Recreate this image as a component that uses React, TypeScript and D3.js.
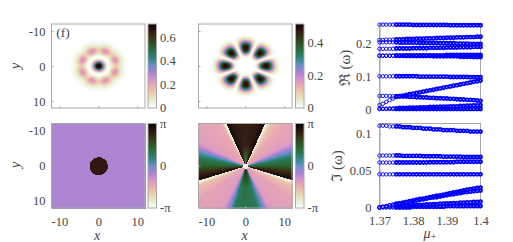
import React, { useEffect, useRef } from 'react';
import * as d3 from 'd3';

// colormap
const cmapStops = [0, 0.05, 0.12, 0.2, 0.28, 0.36, 0.42, 0.5, 0.56, 0.62, 0.7, 0.78, 0.86, 0.93, 1];
const cmapColors = ['#ffffff', '#eef5e4', '#e9e4c2', '#ecc6aa', '#e8a5b5', '#cf8fd0', '#a882d2', '#6f8fc8', '#3f8c9c', '#2c7f6c', '#2a6a38', '#2e4f20', '#3a2b16', '#2a1210', '#0a0508'];

// panel (f) amplitude: radial profiles and angular lobes
const ampRadiusA = [0, 0.6, 0.9, 1.2, 1.6, 2.1, 2.7, 3.1, 3.6, 4.4, 5.1, 5.7, 6.3, 7, 7.6];
const ampValueA = [0.72, 0.68, 0.5, 0.36, 0.2, 0.03, 0, 0.06, 0.15, 0.26, 0.2, 0.1, 0.05, 0.015, 0];
const lobeOffsetA = [0, 8, 14, 22.5];
const lobeFactorA = [1, 0.9, 0.68, 0.52];

const ampRadiusB = [0, 2.2, 2.8, 3.4, 3.9, 4.5, 5.2, 5.9, 6.5, 7.1, 7.7, 8.5, 9.1];
const ampValueB = [0, 0, 0.05, 0.2, 0.36, 0.47, 0.51, 0.47, 0.34, 0.2, 0.08, 0.015, 0];
const lobeOffsetB = [0, 4, 8, 12, 16, 20, 22.5];
const lobeFactorB = [1, 0.97, 0.85, 0.62, 0.34, 0.09, 0];

// phase panels
const flatPhase = -0.55;
const corePhase = 2.6;
const coreRadius = [2.35, 2.55];
const starRadius = 0.7;

const phaseAngles = [0, 15, 24.4, 24.5, 30, 40, 62, 67, 72, 76, 81, 88, 97, 106.7, 106.8, 112, 125, 150, 154, 157, 165, 180, 195, 200, 204, 208, 235, 248, 253, 253.1, 263, 272, 279, 284, 288, 292, 297, 330, 335.5, 335.6, 345, 360];
const phaseOuter = [2.45, 2.6, 3, -3.14, -1.9, -1.45, -1.2, -0.6, 0, 0.5, 1, 1.3, 2.2, 3, -3.14, -1.8, -1.35, -1.2, -0.6, 0, 0.9, 1.1, 0.9, 0, -0.6, -1.2, -1.35, -1.8, -3.14, 3, 2.2, 1.3, 1, 0.5, 0, -0.6, -1.2, -1.45, -3.14, 3, 2.6, 2.45];
const phaseInner = [0.7, 2.3, 3, -3.14, -1.9, -1.45, -1.2, -0.6, 0, 0.5, 1, 1.3, 2.2, 3, -3.14, -1.8, -1.35, -1.2, -0.6, 0, 1.6, 2.5, 1.6, 0, -0.6, -1.2, -1.35, -1.8, -3.14, 3, 2.2, 1.3, 1, 0.5, 0, -0.6, -1.2, -1.45, -3.14, 3, 2.3, 0.7];

// spectra
const mu = [1.37, 1.371, 1.372, 1.373, 1.374, 1.375, 1.376, 1.377, 1.378, 1.379, 1.38, 1.381, 1.382, 1.383, 1.384, 1.385, 1.386, 1.387, 1.388, 1.389, 1.39, 1.391, 1.392, 1.393, 1.394, 1.395, 1.396, 1.397, 1.398, 1.399, 1.4];

const reSeries = [
  [.258, .258, .258, .258, .258, .258, .258, .258, .258, .258, .257, .257, .257, .257, .257, .257, .257, .257, .257, .257, .257, .256, .256, .256, .256, .256, .256, .256, .256, .256, .256],
  [.211, .211, .212, .212, .212, .213, .213, .213, .214, .214, .214, .215, .215, .215, .216, .216, .216, .217, .217, .217, .218, .218, .218, .219, .219, .219, .220, .220, .220, .221, .221],
  [.204, .204, .204, .204, .204, .204, .203, .203, .203, .203, .203, .203, .202, .202, .202, .202, .202, .202, .201, .201, .201, .201, .201, .200, .200, .200, .200, .199, .199, .199, .199],
  [.184, .184, .184, .184, .184, .185, .185, .185, .185, .185, .186, .186, .186, .186, .186, .187, .187, .187, .187, .187, .188, .188, .188, .188, .189, .189, .189, .189, .190, .190, .190],
  [.163, .163, .163, .163, .163, .163, .163, .163, .164, .164, .164, .164, .164, .164, .164, .164, .164, .164, .164, .164, .165, .165, .165, .165, .165, .165, .165, .165, .165, .165, .165],
  [.163, .163, .163, .163, .163, .163, .163, .163, .162, .162, .162, .162, .162, .162, .162, .162, .161, .161, .161, .161, .161, .161, .161, .161, .160, .160, .160, .160, .159, .159, .159],
  [.100, .100, .100, .100, .100, .100, .100, .100, .100, .100, .100, .100, .099, .099, .099, .099, .099, .099, .099, .099, .099, .098, .098, .098, .098, .098, .098, .097, .097, .097, .097],
  [.012, .016, .022, .027, .032, .037, .039, .041, .043, .045, .047, .049, .051, .053, .055, .057, .059, .061, .063, .065, .067, .069, .071, .073, .075, .077, .079, .081, .083, .085, .087],
  [.040, .040, .040, .040, .039, .039, .039, .038, .038, .037, .037, .036, .036, .035, .035, .034, .034, .033, .033, .032, .032, .031, .031, .030, .029, .029, .028, .028, .027, .026, .025],
  [.001, .001, .001, .002, .002, .002, .003, .003, .003, .004, .004, .004, .005, .005, .005, .006, .006, .006, .007, .007, .007, .008, .008, .008, .009, .009, .010, .010, .011, .011, .012],
  [0, 0, 0, 0, 0, 0, 0, 0, 0, 0, 0, 0, 0, 0, 0, 0, 0, 0, 0, 0, 0, 0, 0, 0, 0, 0, 0, 0, 0, 0, 0],
];

const imSeries = [
  [.111, .111, .111, .110, .110, .110, .110, .109, .109, .109, .108, .108, .108, .107, .107, .107, .106, .106, .106, .105, .105, .105, .105, .104, .104, .104, .104, .103, .103, .103, .103],
  [.0705, .0705, .0705, .0705, .0705, .0705, .0705, .07, .07, .07, .07, .07, .07, .0695, .0695, .0695, .0695, .0695, .0695, .069, .069, .069, .069, .069, .069, .0685, .0685, .0685, .0685, .0685, .0685],
  [.061, .061, .061, .061, .061, .061, .061, .061, .061, .061, .061, .061, .061, .061, .061, .0615, .0615, .0615, .0615, .0615, .0615, .0615, .0615, .062, .062, .062, .062, .062, .062, .062, .062],
  [.045, .045, .045, .045, .045, .045, .045, .045, .045, .045, .045, .045, .045, .045, .045, .045, .045, .045, .045, .045, .045, .045, .045, .045, .045, .045, .045, .045, .045, .045, .045],
  [0, .001, .002, .003, .004, .005, .0055, .0065, .0075, .0085, .0095, .0105, .0115, .012, .013, .014, .015, .016, .0165, .0175, .0185, .0195, .0205, .021, .022, .023, .024, .025, .0255, .0265, .027],
  [0, .001, .002, .003, .0035, .0045, .0055, .006, .007, .008, .0085, .0095, .0105, .011, .012, .013, .0135, .014, .015, .016, .0165, .0175, .018, .019, .0195, .0205, .021, .0215, .022, .0225, .023],
  [0, .0005, .001, .001, .0015, .0015, .002, .002, .0025, .0025, .003, .003, .0035, .0035, .004, .004, .0045, .0045, .005, .005, .0055, .0055, .006, .006, .0065, .0065, .007, .007, .0075, .0075, .008],
  [0, 0, 0, 0, 0, 0, 0, 0, 0, 0, .001, .001, .001, .001, .001, .001, .001, .001, .001, .001, .002, .002, .002, .002, .002, .002, .002, .002, .002, .002, .002],
];

const spaceTicks = [-10, 0, 10];
const reTicks = [0, 0.1, 0.2];
const imTicks = [0, 0.05, 0.1];
const muTicks = [1.37, 1.38, 1.39, 1.4];
const ampTicksA = [0, 0.2, 0.4, 0.6];
const ampTicksB = [0, 0.2, 0.4];

const FONT = '"Liberation Serif", serif';
const INK = '#444';
const FRAME = '#a8a8a8';

const cmap = d3.scaleLinear<string>().domain(cmapStops).range(cmapColors).clamp(true);
const PI = Math.PI;

const ampA = d3.scaleLinear().domain(ampRadiusA).range(ampValueA).clamp(true);
const ampB = d3.scaleLinear().domain(ampRadiusB).range(ampValueB).clamp(true);
const factorA = d3.scaleLinear().domain(lobeOffsetA).range(lobeFactorA).clamp(true);
const factorB = d3.scaleLinear().domain(lobeOffsetB).range(lobeFactorB).clamp(true);
const outerPhase = d3.scaleLinear().domain(phaseAngles).range(phaseOuter);
const innerPhase = d3.scaleLinear().domain(phaseAngles).range(phaseInner);
const phaseBlend = d3.scaleLinear().domain([1.5, 6]).range([0, 1]).clamp(true);

const bearing = (dx: number, dy: number) => ((Math.atan2(dx, -dy) * 180) / PI + 360) % 360;

export default function App() {
  const svgRef = useRef<SVGSVGElement>(null);

  useEffect(() => {
    const svg = d3.select(svgRef.current);
    svg.selectAll('*').remove();

    const heatmap = (
      left: number, top: number, field: (x: number, y: number, px: number, py: number) => number,
      yLabels: boolean, xLabels: boolean,
    ) => {
      const w = 93.5;
      const h = top < 100 ? 84 : 84.5;
      const x = d3.scaleLinear().domain([-12, 12]).range([left, left + w]);
      const y = d3.scaleLinear().domain([-12, 12]).range([top, top + h]);
      const g = svg.append('g');
      const cols = d3.range(left, left + w, 1);
      const rows = d3.range(top, top + h, 1);
      const cells = rows.flatMap(py => cols.map(px => ({ px, py })));
      g.selectAll('rect')
        .data(cells)
        .enter()
        .append('rect')
        .attr('x', d => d.px)
        .attr('y', d => d.py)
        .attr('width', 1)
        .attr('height', 1)
        .attr('shape-rendering', 'crispEdges')
        .attr('fill', d => cmap(field(x.invert(d.px + 0.5), y.invert(d.py + 0.5), d.px + 0.5 - x(0), d.py + 0.5 - y(0))));

      svg.append('rect')
        .attr('x', left).attr('y', top).attr('width', w).attr('height', h)
        .attr('fill', 'none').attr('stroke', FRAME);

      const axis = (sel: any) => {
        sel.selectAll('.domain').remove();
        sel.selectAll('line').attr('stroke', FRAME);
        sel.selectAll('text').attr('font-family', FONT).attr('font-size', 12.5).attr('fill', INK);
      };
      svg.append('g').attr('transform', `translate(${left},0)`)
        .call(d3.axisLeft(y).tickValues(spaceTicks).tickSize(-2).tickPadding(6).tickFormat(yLabels ? (d => String(d)) : () => ''))
        .call(axis);
      svg.append('g').attr('transform', `translate(0,${top + h})`)
        .call(d3.axisBottom(x).tickValues(spaceTicks).tickSize(-2).tickPadding(9).tickFormat(xLabels ? (d => String(d)) : () => ''))
        .call(axis);
    };

    const colorbar = (left: number, top: number, h: number, labels: [number, string][], max: number) => {
      const scale = d3.scaleLinear().domain([0, max]).range([top + h, top]);
      const rows = d3.range(top, top + h, 1);
      svg.append('g').selectAll('rect')
        .data(rows)
        .enter()
        .append('rect')
        .attr('x', left).attr('y', d => d).attr('width', 8.5).attr('height', 1)
        .attr('shape-rendering', 'crispEdges')
        .attr('fill', d => cmap(scale.invert(d + 0.5) / max));
      svg.append('rect').attr('x', left).attr('y', top).attr('width', 8.5).attr('height', h)
        .attr('fill', 'none').attr('stroke', FRAME);
      svg.append('g').selectAll('text')
        .data(labels)
        .enter()
        .append('text')
        .attr('x', left + 12)
        .attr('y', d => scale(d[0]))
        .attr('dy', '0.33em')
        .attr('font-family', FONT).attr('font-size', 12.5).attr('fill', INK)
        .text(d => d[1]);
    };

    heatmap(51.5, 24, (x, y) => {
      const r = Math.hypot(x, y);
      const off = Math.abs((((bearing(x, y) - 22.5) % 45) + 45) % 45);
      const near = Math.min(off, 45 - off);
      return ampA(r) * (r > 2.4 ? factorA(near) : 1) / 0.72;
    }, true, false);
    colorbar(148, 24, 84, ampTicksA.map(v => [v, String(v)]), 0.715);

    heatmap(198.5, 24, (x, y) => {
      const r = Math.hypot(x, y);
      const off = bearing(x, y) % 45;
      const near = Math.min(off, 45 - off);
      return (ampB(r) * factorB(near)) / 0.517;
    }, false, false);
    colorbar(295.5, 24, 84, ampTicksB.map(v => [v, String(v)]), 0.517);

    const phaseColor = (p: number) => (p + PI) / (2 * PI);

    heatmap(51.5, 123.5, (x, y) => {
      const inside = (x / coreRadius[0]) ** 2 + (y / coreRadius[1]) ** 2 < 1;
      return phaseColor(inside ? corePhase : flatPhase);
    }, true, true);

    heatmap(198.5, 123.5, (x, y, px, py) => {
      const r = Math.hypot(x, y);
      if (r < starRadius) return 0;
      const a = bearing(px, py);
      const t = phaseBlend(r);
      return phaseColor(innerPhase(a) * (1 - t) + outerPhase(a) * t);
    }, false, true);

    const phaseLabels: [number, string][] = [[1, 'π'], [0.5, '0'], [0, '-π']];
    colorbar(148, 123.5, 84.5, phaseLabels, 1);
    colorbar(295.5, 123.5, 84.5, phaseLabels, 1);

    // spectra
    const spectrum = (series: number[][], yMax: number, top: number, bottom: number, ticks: number[], labels: boolean) => {
      const x = d3.scaleLinear().domain([1.37, 1.4]).range([379.5, 480.5]);
      const y = d3.scaleLinear().domain([0, yMax]).range([bottom, top]);
      const style = (sel: any) => {
        sel.selectAll('line').attr('stroke', FRAME);
        sel.selectAll('.domain').attr('stroke', FRAME);
        sel.selectAll('text').attr('font-family', FONT).attr('font-size', 12.5).attr('fill', INK);
      };
      svg.append('rect').attr('x', 379.5).attr('y', top).attr('width', 101).attr('height', bottom - top)
        .attr('fill', 'none').attr('stroke', FRAME);
      svg.append('g').attr('transform', 'translate(379.5,0)')
        .call(d3.axisLeft(y).tickValues(ticks).tickSize(-2).tickPadding(8).tickFormat(d => String(d)))
        .call(style);
      svg.append('g').attr('transform', `translate(0,${bottom})`)
        .call(d3.axisBottom(x).tickValues(muTicks).tickSize(-2).tickPadding(9).tickFormat(labels ? (d => String(d)) : () => ''))
        .call(style);
      series.forEach(line => {
        svg.append('g').selectAll('circle')
          .data(line)
          .enter()
          .append('circle')
          .attr('cx', (_, i) => x(mu[i]))
          .attr('cy', d => y(d))
          .attr('r', (_, i) => (mu[i] < 1.375 ? 1.75 : 1.5))
          .attr('fill', 'none')
          .attr('stroke', '#0000ff')
          .attr('stroke-width', (_, i) => (mu[i] < 1.375 ? 0.9 : 1.9));
      });
    };
    spectrum(reSeries, 0.26, 24, 109, reTicks, false);
    spectrum(imSeries, 0.114, 123.5, 207.5, imTicks, true);

    const label = (x: number, y: number, text: string, opts: { rotate?: boolean; italic?: boolean; size?: number } = {}) =>
      svg.append('text')
        .attr('transform', `translate(${x},${y})${opts.rotate ? ' rotate(-90)' : ''}`)
        .attr('text-anchor', 'middle')
        .attr('font-family', FONT)
        .attr('font-size', opts.size ?? 14)
        .attr('font-style', opts.italic ? 'italic' : 'normal')
        .attr('fill', INK)
        .text(text);

    label(63, 37, '(f)', { size: 13.5 });
    label(20, 66, 'y', { rotate: true, italic: true });
    label(20, 165, 'y', { rotate: true, italic: true });
    label(97, 239.5, 'x', { italic: true });
    label(244.5, 239.5, 'x', { italic: true });
    label(350, 68, 'ℜ (ω)', { rotate: true, size: 15 });
    label(342, 166, 'ℑ (ω)', { rotate: true, size: 15 });
    const muLabel = label(430, 238, 'μ', { italic: true });
    muLabel.append('tspan').attr('font-size', 10.5).attr('dy', 1.5).attr('font-style', 'normal').text('+');
  }, []);

  return <svg ref={svgRef} width={513} height={242} style={{ position: 'absolute', left: 0, top: 0, background: '#fff' }} />;
}
